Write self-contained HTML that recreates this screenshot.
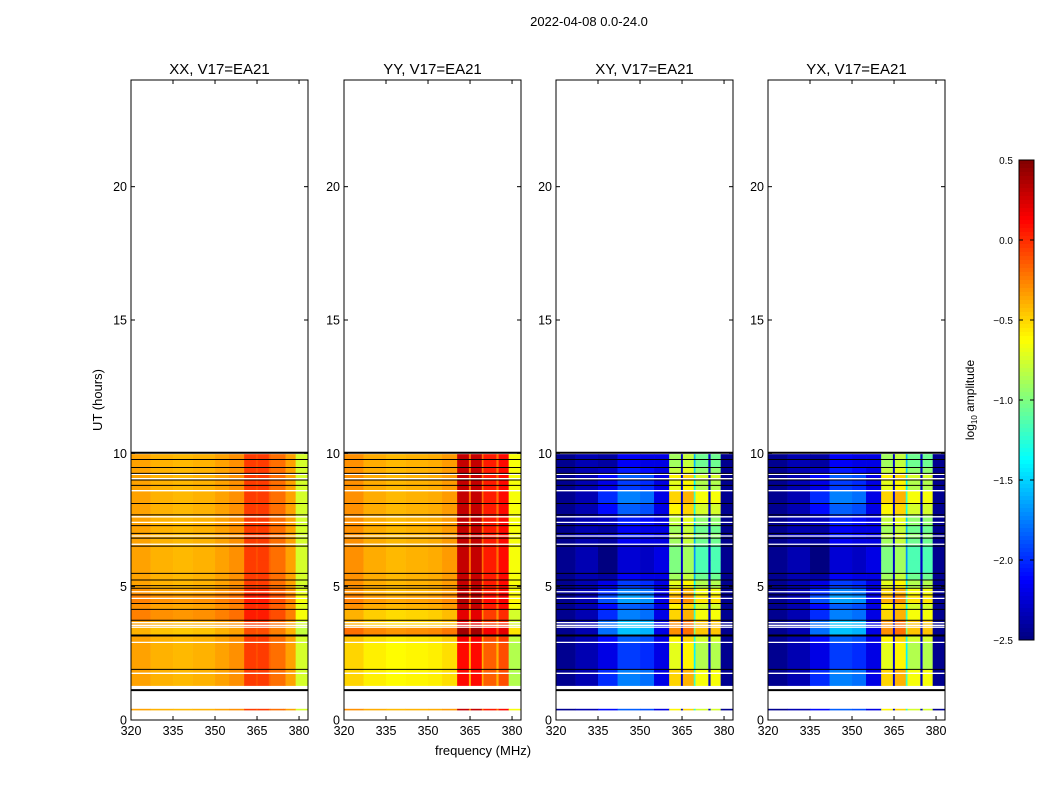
<!DOCTYPE html>
<html><head><meta charset="utf-8"><style>
body{margin:0;background:#fff;}
svg text{font-family:"Liberation Sans",sans-serif;fill:#000;}
</style></head><body>
<svg id="fig" width="1050" height="800" xmlns="http://www.w3.org/2000/svg">
<text x="589" y="26" text-anchor="middle" font-size="13">2022-04-08 0.0-24.0</text>
<text x="483" y="755" text-anchor="middle" font-size="13">frequency (MHz)</text>
<text transform="translate(102,400) rotate(-90)" text-anchor="middle" font-size="13">UT (hours)</text>
<g id="panels"></g>
<g id="cbar"></g>
<text transform="translate(974,400) rotate(-90)" text-anchor="middle" font-size="12">log<tspan font-size="8" dy="3">10</tspan><tspan dy="-3"> amplitude</tspan></text>
</svg>
<script>
const panelTitles = ["XX, V17=EA21","YY, V17=EA21","XY, V17=EA21","YX, V17=EA21"];
const freqEdges = [320,327,335,342,350,355,360.4,364.6,365.3,369.2,369.8,374.4,375.2,378.8,383.2];
const xxProfile = [-0.35,-0.4,-0.42,-0.4,-0.35,-0.3,-0.05,-0.1,-0.05,-0.15,-0.2,-0.2,-0.35,-0.75];
const yyProfile = [-0.3,-0.38,-0.42,-0.4,-0.38,-0.33,0.3,-0.2,0.3,-0.2,0.05,-0.2,0.1,-0.65];
const xyProfile = [-2.45,-2.35,-2.1,-1.85,-1.9,-2.2,-0.6,-2.3,-0.5,-1.3,-0.75,-2.3,-0.75,-2.45];
const yxProfile = [-2.45,-2.35,-2.1,-1.85,-1.9,-2.2,-0.6,-2.3,-0.5,-1.3,-0.75,-2.3,-0.75,-2.45];
const timeEdges = [1.29,1.9,2.91,3.17,3.5,3.74,4.15,4.37,4.69,4.94,5.25,5.5,6.0,6.52,6.82,7.0,7.29,7.69,8.12,8.6,9.0,9.25,9.47,9.77,9.97];
const xxOffsets = [0,0,0,-0.05,0,0.1,0.05,0.1,0.05,0,0,0,0,0,0,0,0,0,0,0,0,0,0,0];
const yyOffsets = [-0.2,-0.2,-0.15,0.1,-0.1,-0.1,0,0.05,0,0,0,0,0,0,0,0,0,0,0,0,0,0,0,0];
const xyOffsets = [0.1,-0.1,0,0.3,0.3,0.1,0,0.2,0.1,-0.1,-0.3,-0.4,-0.4,-0.3,-0.2,-0.3,-0.2,0,0.1,-0.1,0,-0.2,-0.3,-0.3];
const yxOffsets = [0.1,-0.1,0,0.3,0.3,0.1,0,0.2,0.1,-0.1,-0.3,-0.4,-0.4,-0.3,-0.2,-0.3,-0.2,0,0.1,-0.1,0,-0.2,-0.3,-0.3];
const stripRange = [0.36,0.42];
const blackLines = [9.77,9.47,9.25,9.0,8.8,8.12,7.69,7.29,7.0,6.82,6.52,5.5,5.25,5.04,4.94,4.69,4.37,4.15,3.74,1.9];
const thickBlackLines = [10.02,3.17,1.12];
const whiteLines = [9.21,9.05,8.6,7.62,7.41,6.9,6.59,4.81,4.56,3.65,3.55,3.48,2.91,1.75];
const xTicks = [320,335,350,365,380];
const yTicks = [0,5,10,15,20];
const cbTicks = [0.5,0.0,-0.5,-1.0,-1.5,-2.0,-2.5];
const cbTickLabels = ["0.5","0.0","\u22120.5","\u22121.0","\u22121.5","\u22122.0","\u22122.5"];

const profiles=[xxProfile,yyProfile,xyProfile,yxProfile];
const offsets=[xxOffsets,yyOffsets,xyOffsets,yxOffsets];
const panelX=[131,344,556,768], PW=177, PT=80, PB=720;
const NS="http://www.w3.org/2000/svg";
const vmin=-2.5,vmax=0.5;
function jet(v){let t=Math.max(0,Math.min(1,(v-vmin)/(vmax-vmin)));
 const f=(x)=>Math.max(0,Math.min(1,x));
 const r=f(1.5-Math.abs(4*t-3)),g=f(1.5-Math.abs(4*t-2)),b=f(1.5-Math.abs(4*t-1));
 return `rgb(${Math.round(r*255)},${Math.round(g*255)},${Math.round(b*255)})`;}
function mk(tag,attrs,parent){const e=document.createElementNS(NS,tag);for(const k in attrs)e.setAttribute(k,attrs[k]);parent.appendChild(e);return e;}
const panels=document.getElementById('panels');
panelTitles.forEach((title,p)=>{
 const x0=panelX[p];
 const xs=f=>x0+(f-320)/(383.2-320)*PW;
 const ys=h=>PB-(h/24)*(PB-PT);
 const g=mk('g',{},panels);
 
 
 const prof=profiles[p],off=offsets[p];
 for(let s=0;s<timeEdges.length-1;s++){
  for(let b=0;b<prof.length;b++){
   let v=prof[b];
   if(v>-2.2) v+=off[s];
   const r=mk('rect',{x:xs(freqEdges[b]),y:ys(timeEdges[s+1]),width:xs(freqEdges[b+1])-xs(freqEdges[b])+0.3,height:ys(timeEdges[s])-ys(timeEdges[s+1])+0.3,fill:jet(v)},g);
   
   
  }
 }
 for(let b=0;b<prof.length;b++){
  const r=mk('rect',{x:xs(freqEdges[b]),y:ys(stripRange[1]),width:xs(freqEdges[b+1])-xs(freqEdges[b])+0.3,height:ys(stripRange[0])-ys(stripRange[1]),fill:jet(prof[b])},g);
  
  
 }
 whiteLines.forEach(h=>{const l=mk('line',{x1:x0,x2:x0+PW,y1:ys(h),y2:ys(h),stroke:'#fff','stroke-width':1.3},g);
  });
 blackLines.forEach(h=>{const l=mk('line',{x1:x0,x2:x0+PW,y1:ys(h),y2:ys(h),stroke:'#000','stroke-width':1},g);
  });
 thickBlackLines.forEach(h=>{const l=mk('line',{x1:x0,x2:x0+PW,y1:ys(h),y2:ys(h),stroke:'#000','stroke-width':2},g);
  });
 const fr=mk('rect',{x:x0,y:PT,width:PW,height:PB-PT,fill:'none',stroke:'#000','stroke-width':1},g);
 
 const t=mk('text',{x:x0+PW/2,y:74,'text-anchor':'middle','font-size':15},g);t.textContent=title;
 
 xTicks.forEach(v=>{const X=xs(v);
  mk('line',{x1:X,x2:X,y1:PB,y2:PB-4,stroke:'#000'},g);mk('line',{x1:X,x2:X,y1:PT,y2:PT+4,stroke:'#000'},g);
  const tt=mk('text',{x:X,y:PB+15,'text-anchor':'middle','font-size':12.5},g);tt.textContent=v;
  });
 yTicks.forEach(v=>{const Y=ys(v);
  mk('line',{x1:x0,x2:x0+4,y1:Y,y2:Y,stroke:'#000'},g);mk('line',{x1:x0+PW,x2:x0+PW-4,y1:Y,y2:Y,stroke:'#000'},g);
  const tt=mk('text',{x:x0-4,y:Y+4.5,'text-anchor':'end','font-size':12.5},g);tt.textContent=v;
  });
});
const cb=document.getElementById('cbar');
const CX=1019,CW=15,CT=160,CB=640;
const cys=v=>CT+(vmax-v)/(vmax-vmin)*(CB-CT);
for(let i=0;i<120;i++){const v0=vmax-i*(vmax-vmin)/120;
 mk('rect',{x:CX,y:cys(v0),width:CW,height:(CB-CT)/120+0.5,fill:jet(v0-(vmax-vmin)/240)},cb);}
mk('rect',{x:CX,y:CT,width:CW,height:CB-CT,fill:'none',stroke:'#000'},cb);
cbTicks.forEach((v,i)=>{const Y=cys(v);
 mk('line',{x1:CX,x2:CX+4,y1:Y,y2:Y,stroke:'#000'},cb);mk('line',{x1:CX+CW,x2:CX+CW-4,y1:Y,y2:Y,stroke:'#000'},cb);
 const tt=mk('text',{x:CX-6,y:Y+4,'text-anchor':'end','font-size':10},cb);tt.textContent=cbTickLabels[i];
 });
</script>
</body></html>
